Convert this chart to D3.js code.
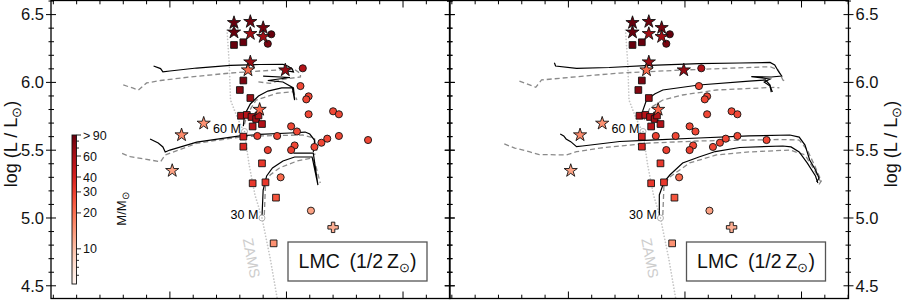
<!DOCTYPE html>
<html>
<head>
<meta charset="utf-8">
<script src="https://cdn.jsdelivr.net/npm/d3@7"></script>
<style>
body { margin: 0; background: #fff; }
svg { display: block; font-family: "Liberation Sans", Arial, Helvetica, sans-serif; }
</style>
</head>
<body>
<script>
var W = 909, H = 300,
    panelW = 399,
    plotBottom = 298.5,
    panelX = [51, 449.5];

// ---- data: [logTeff, logL, mass] ----
var starPts = [
  [4.645, 6.440, 95], [4.645, 6.370, 95], [4.631, 6.448, 85], [4.631, 6.359, 63],
  [4.620, 6.403, 82], [4.620, 6.337, 63], [4.631, 6.150, 65], [4.633, 6.091, 21],
  [4.601, 6.091, 68], [4.623, 5.800, 22], [4.671, 5.698, 15], [4.690, 5.612, 16],
  [4.698, 5.349, 13]
];
var squarePts = [
  [4.645, 6.276, 90], [4.637, 6.296, 90], [4.637, 6.014, 80], [4.640, 5.944, 75],
  [4.631, 5.885, 65], [4.639, 5.754, 60], [4.634, 5.760, 52], [4.630, 5.745, 58],
  [4.626, 5.730, 62], [4.624, 5.756, 52], [4.621, 5.693, 55], [4.629, 5.675, 52],
  [4.637, 5.600, 40], [4.637, 5.526, 38], [4.621, 5.403, 32], [4.629, 5.256, 32],
  [4.618, 5.263, 32], [4.609, 5.150, 25], [4.611, 4.813, 15]
];
var circlePts = [
  [4.613, 6.355, 90], [4.616, 6.285, 80], [4.586, 6.104, 55], [4.588, 5.973, 28],
  [4.581, 5.897, 28], [4.583, 5.875, 28], [4.581, 5.765, 28], [4.560, 5.787, 28],
  [4.555, 5.765, 28], [4.596, 5.676, 28], [4.591, 5.638, 28], [4.608, 5.605, 28],
  [4.625, 5.605, 30], [4.576, 5.524, 28], [4.570, 5.555, 28], [4.565, 5.585, 28],
  [4.555, 5.605, 28], [4.530, 5.575, 28], [4.593, 5.535, 28], [4.616, 5.501, 30],
  [4.596, 5.501, 30], [4.605, 5.300, 21], [4.579, 5.054, 13]
];
var crossPts = [[4.560, 4.931, 11.6]];

// evolutionary tracks, left panel
var leftSolid = [
  [[4.714,6.121],[4.708,6.102],[4.706,6.077],[4.700,6.084],[4.677,6.106],[4.648,6.125],[4.623,6.132],
   [4.603,6.133],[4.599,6.121],[4.595,6.099],[4.594,6.077],[4.599,6.084],[4.601,6.102]],
  [[4.637,5.678],[4.636,5.760],[4.631,5.841],[4.624,5.900],[4.616,5.936],[4.604,5.959],[4.595,5.962],
   [4.593,5.870],[4.594,5.959],[4.603,6.003],[4.616,6.014],[4.597,6.036],[4.620,6.047]],
  [[4.717,5.583],[4.710,5.553],[4.706,5.524],[4.704,5.487],[4.700,5.501],[4.677,5.560],[4.640,5.605],
   [4.623,5.616],[4.597,5.627],[4.584,5.634],[4.580,5.619],[4.576,5.575],[4.576,5.524],[4.577,5.487]],
  [[4.621,5.007],[4.620,5.206],[4.617,5.310],[4.612,5.369],[4.603,5.420],[4.593,5.450],[4.578,5.450],
   [4.573,5.243],[4.577,5.479],[4.594,5.479]]
];
var leftDashed = [
  [[4.740,5.981],[4.732,5.959],[4.727,5.944],[4.724,5.966],[4.720,5.996],[4.708,6.014],[4.691,6.032],
   [4.670,6.051],[4.648,6.069],[4.623,6.084],[4.601,6.095],[4.593,6.095],[4.588,6.066],[4.588,6.040],
   [4.603,6.023],[4.614,5.993],[4.625,6.005]],
  [[4.636,5.690],[4.634,5.760],[4.626,5.870],[4.608,5.920],[4.594,5.931],[4.591,5.870]],
  [[4.741,5.476],[4.734,5.452],[4.708,5.415],[4.704,5.465],[4.677,5.551],[4.640,5.597],[4.623,5.605],
   [4.586,5.612],[4.576,5.590],[4.574,5.501],[4.576,5.465]],
  [[4.619,5.022],[4.618,5.243],[4.614,5.317],[4.606,5.369],[4.591,5.420],[4.578,5.443],[4.575,5.391],
   [4.571,5.258]]
];
// evolutionary tracks, right panel
var rightSolid = [
  [[4.712,6.145],[4.711,6.121],[4.693,6.104],[4.665,6.110],[4.630,6.125],[4.588,6.139],[4.553,6.143],
   [4.527,6.147],[4.523,6.128],[4.520,6.084],[4.517,6.047],[4.526,6.040],[4.543,6.042],[4.527,6.025],
   [4.532,6.003],[4.527,5.973],[4.525,5.929]],
  [[4.638,5.737],[4.636,5.796],[4.633,5.870],[4.626,5.914],[4.619,5.944],[4.588,5.981],[4.545,6.010],
   [4.531,6.018],[4.527,5.981],[4.526,5.929]],
  [[4.707,5.619],[4.704,5.605],[4.702,5.583],[4.698,5.563],[4.693,5.526],[4.688,5.531],[4.656,5.564],
   [4.630,5.575],[4.588,5.590],[4.545,5.605],[4.510,5.612],[4.502,5.597],[4.497,5.538],[4.493,5.428],
   [4.488,5.354],[4.485,5.295],[4.487,5.265]],
  [[4.622,5.015],[4.622,5.170],[4.618,5.265],[4.613,5.317],[4.602,5.406],[4.588,5.450],[4.574,5.490],
   [4.553,5.520],[4.516,5.531],[4.509,5.524],[4.502,5.487],[4.495,5.405],[4.488,5.310],[4.486,5.258]]
];
var rightDashed = [
  [[4.742,6.010],[4.728,5.964],[4.723,6.018],[4.693,6.042],[4.656,6.069],[4.602,6.091],[4.527,6.116],
   [4.520,6.091],[4.516,6.018],[4.513,6.005]],
  [[4.635,5.723],[4.630,5.811],[4.619,5.870],[4.602,5.907],[4.573,5.944],[4.523,5.964],[4.519,5.959]],
  [[4.755,5.546],[4.746,5.516],[4.733,5.487],[4.725,5.468],[4.702,5.465],[4.693,5.489],[4.673,5.516],
   [4.630,5.553],[4.588,5.568],[4.519,5.579],[4.502,5.575],[4.495,5.501],[4.489,5.391],[4.483,5.273],
   [4.485,5.247]],
  [[4.619,5.022],[4.618,5.243],[4.613,5.302],[4.596,5.406],[4.573,5.465],[4.545,5.487],[4.510,5.501],
   [4.497,5.465],[4.489,5.354],[4.483,5.258]]
];

// zero-age main sequence
var zams = [[4.651,6.386],[4.649,6.128],[4.648,5.870],[4.642,5.737],[4.636,5.627],[4.632,5.391],
            [4.627,5.170],[4.621,5.000],[4.614,4.705],[4.608,4.410]];
var zamsMass = [60, 30],
    zamsMarkT = [4.636, 4.621],
    zamsMarkL = [5.638, 5.000];

// ticks
var yMajor = [4.5, 5.0, 5.5, 6.0, 6.5];
var xMajor = [4.7, 4.6, 4.5];
var cbTicks = [6, 7, 8, 9, 10, 20, 30, 40, 50, 60, 70, 80, 90];
var cbLabels = {10: "10", 20: "20", 30: "30", 40: "40", 60: "60", 90: ">\u200990"};

// ---- scales ----
var x = d3.scaleLinear().domain([4.802, 4.4597]).range([0, panelW]);
var y = d3.scaleLinear().domain([4.4063, 6.6077]).range([plotBottom, 0]);
var mNorm = d3.scaleLog().domain([5.07, 90]).range([0, 1]).clamp(true);
function massColor(m) { return d3.interpolateReds(mNorm(m)); }

var yMinor = d3.range(45, 67).map(function(v) { return v / 10; })
  .filter(function(v) { return yMajor.indexOf(v) < 0; });
var xMinor = d3.range(223, 241).map(function(v) { return v / 50; })
  .filter(function(v) { return xMajor.indexOf(v) < 0; });

var svg = d3.select("body").append("svg")
  .attr("width", W)
  .attr("height", H);

var defs = svg.append("defs");
defs.append("clipPath").attr("id", "plotclip")
  .append("rect").attr("x", 0).attr("y", 0).attr("width", panelW).attr("height", plotBottom);

var line = d3.line().x(function(d) { return x(d[0]); }).y(function(d) { return y(d[1]); });

function drawPanel(i, solid, dashed) {
  var g = svg.append("g").attr("transform", "translate(" + panelX[i] + ",0)");
  var inner = g.append("g").attr("clip-path", "url(#plotclip)");

  // ZAMS
  inner.append("path").datum(zams)
    .attr("d", line)
    .attr("fill", "none")
    .attr("stroke", "#c4c4c4")
    .attr("stroke-width", 1.7)
    .attr("stroke-linecap", "round")
    .attr("stroke-dasharray", "0.01,3.1");

  var lx = x(4.630), ly = y(4.705);
  inner.append("text")
    .attr("transform", "translate(" + lx + "," + ly + ") rotate(79)")
    .attr("text-anchor", "middle")
    .attr("dy", "0.35em")
    .attr("font-size", 14.5)
    .attr("fill", "#cdcdcd")
    .text("ZAMS");

  // tracks
  inner.selectAll(".dtrack").data(dashed).enter().append("path")
    .attr("d", line)
    .attr("fill", "none")
    .attr("stroke", "#8a8a8a")
    .attr("stroke-width", 1.3)
    .attr("stroke-dasharray", "5,3");
  inner.selectAll(".strack").data(solid).enter().append("path")
    .attr("d", line)
    .attr("fill", "none")
    .attr("stroke", "#000")
    .attr("stroke-width", 1.2);

  // ZAMS mass marks
  zamsMass.forEach(function(m, k) {
    var px = x(zamsMarkT[k]), py = y(zamsMarkL[k]);
    inner.append("text")
      .attr("x", px - 3.6)
      .attr("y", py + 1.2)
      .attr("text-anchor", "end")
      .attr("font-size", 12.5)
      .text(m + " M");
    inner.append("circle").attr("cx", px).attr("cy", py).attr("r", 3)
      .attr("fill", "#fff").attr("stroke", "#a8a8a8").attr("stroke-width", 0.9);
    inner.append("circle").attr("cx", px).attr("cy", py).attr("r", 0.8)
      .attr("fill", "#a8a8a8");
  });

  // markers
  function addSymbols(data, type, size, sw) {
    inner.selectAll(null).data(data).enter().append("path")
      .attr("transform", function(d) { return "translate(" + x(d[0]) + "," + y(d[1]) + ")"; })
      .attr("d", d3.symbol().type(type).size(size))
      .attr("fill", function(d) { return massColor(d[2]); })
      .attr("stroke", "#111")
      .attr("stroke-width", sw);
  }
  addSymbols(circlePts, d3.symbolCircle, 40, 0.9);
  addSymbols(squarePts, d3.symbolSquare, 45, 0.9);
  addSymbols(crossPts, d3.symbolCross, 60, 0.9);
  addSymbols(starPts, d3.symbolStar, 54, 0.9);

  // legend box
  g.append("rect")
    .attr("x", 237).attr("y", 242).attr("width", 139).attr("height", 39)
    .attr("fill", "#fff").attr("stroke", "#555").attr("stroke-width", 1.3);
  var lt = g.append("text")
    .attr("x", 306.5).attr("y", 268)
    .attr("text-anchor", "middle")
    .attr("font-size", 19.5)
    .attr("fill", "#111");
  lt.append("tspan").text("LMC\u2002(1/2\u2009Z");
  lt.append("tspan").attr("font-size", 13).attr("dy", 4).text("\u2299");
  lt.append("tspan").attr("dy", -4).text(")");

  // frame
  g.append("rect")
    .attr("x", 0).attr("y", 0.5).attr("width", panelW).attr("height", plotBottom - 0.5)
    .attr("fill", "none").attr("stroke", "#000").attr("stroke-width", 1.3);

  // x ticks (inward, top and bottom)
  var tk = g.append("g").attr("stroke", "#000").attr("stroke-width", 1);
  xMajor.concat(xMinor).forEach(function(v) {
    var len = xMajor.indexOf(v) >= 0 ? 7 : 3.8;
    tk.append("line").attr("x1", x(v)).attr("x2", x(v)).attr("y1", plotBottom).attr("y2", plotBottom - len);
    tk.append("line").attr("x1", x(v)).attr("x2", x(v)).attr("y1", 0.5).attr("y2", 0.5 + len);
  });
  // y ticks (crossing both side frames)
  yMajor.concat(yMinor).forEach(function(v) {
    var major = yMajor.indexOf(v) >= 0;
    var inn = major ? 5 : 3, out = major ? 5 : 2.5;
    [0, panelW].forEach(function(xp, s) {
      var dir = s === 0 ? -1 : 1;
      tk.append("line")
        .attr("x1", xp - dir * inn).attr("x2", xp + dir * out)
        .attr("y1", y(v)).attr("y2", y(v));
    });
  });

  // y tick labels
  var lab = g.append("g").attr("font-size", 16.5).attr("fill", "#111");
  yMajor.forEach(function(v) {
    var t = lab.append("text")
      .attr("y", y(v))
      .attr("dy", "0.35em")
      .text(d3.format(".1f")(v));
    if (i === 0) t.attr("x", -7).attr("text-anchor", "end");
    else t.attr("x", panelW + 7).attr("text-anchor", "start");
  });
  return g;
}

drawPanel(0, leftSolid, leftDashed);
drawPanel(1, rightSolid, rightDashed);

// y axis titles
function yTitle(px) {
  var t = svg.append("text")
    .attr("transform", "translate(" + px + ",144) rotate(-90)")
    .attr("text-anchor", "middle")
    .attr("font-size", 18)
    .attr("fill", "#111");
  t.append("tspan").text("log (L / L");
  t.append("tspan").attr("font-size", 12.5).attr("dy", 3.5).text("\u2299");
  t.append("tspan").attr("dy", -3.5).text(")");
}
yTitle(17);
yTitle(897);

// colorbar
var cb = svg.append("g").attr("transform", "translate(72,0)");
var cbY = d3.scaleLog().domain([5.07, 90]).range([284, 135]);
var grad = defs.append("linearGradient").attr("id", "cbgrad")
  .attr("x1", 0).attr("y1", 1).attr("x2", 0).attr("y2", 0);
d3.range(0, 1.0001, 0.05).forEach(function(t) {
  grad.append("stop").attr("offset", t).attr("stop-color", d3.interpolateReds(t));
});
cb.append("rect")
  .attr("x", 0).attr("y", cbY(90)).attr("width", 4.5).attr("height", cbY(5.07) - cbY(90))
  .attr("fill", "url(#cbgrad)").attr("stroke", "#111").attr("stroke-width", 0.9);
cbTicks.forEach(function(v) {
  var lbl = cbLabels[v];
  cb.append("line")
    .attr("x1", 4.5).attr("x2", lbl ? 9 : 7)
    .attr("y1", cbY(v)).attr("y2", cbY(v))
    .attr("stroke", "#111").attr("stroke-width", 0.9);
  if (lbl) {
    cb.append("text")
      .attr("x", 11).attr("y", cbY(v)).attr("dy", "0.36em")
      .attr("font-size", 12.5).attr("fill", "#111")
      .text(lbl);
  }
});
var mt = svg.append("text")
  .attr("transform", "translate(126,209) rotate(-90)")
  .attr("text-anchor", "middle")
  .attr("font-size", 13)
  .attr("fill", "#111");
mt.append("tspan").text("M/M");
mt.append("tspan").attr("font-size", 9.5).attr("dy", 3).text("\u2299");
</script>
</body>
</html>
